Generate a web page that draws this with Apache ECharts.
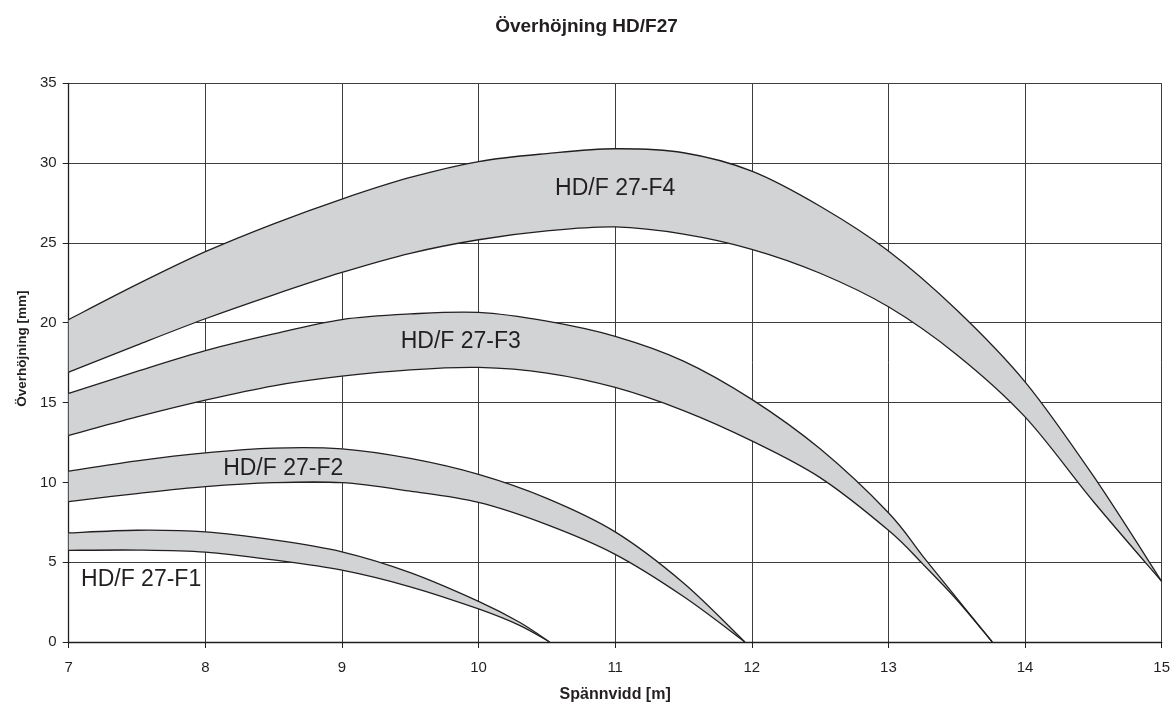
<!DOCTYPE html>
<html>
<head>
<meta charset="utf-8">
<script src="https://cdn.jsdelivr.net/npm/echarts@6/dist/echarts.min.js"></script>
<style>
html,body{margin:0;padding:0;background:#fff;overflow:hidden;}
#chart{width:1173px;height:708px;}
</style>
</head>
<body>
<div id="chart"></div>
<script>
// ---- data ----
const titleText = 'Överhöjning HD/F27';
const xName = 'Spännvidd [m]';
const yName = 'Överhöjning [mm]';

const f4X     = [7, 7.5, 8, 8.5, 9, 9.5, 10, 10.5, 11, 11.5, 12, 12.5, 13, 13.5, 14, 14.5, 15];
const f4Upper = [20.2, 22.4, 24.45, 26.2, 27.75, 29.1, 30.1, 30.6, 30.9, 30.65, 29.5, 27.3, 24.5, 20.8, 16.3, 10.4, 3.8];
const f4Lower = [16.9, 18.6, 20.25, 21.75, 23.15, 24.35, 25.2, 25.75, 26.0, 25.55, 24.6, 23.1, 21.0, 18.0, 14.1, 8.8, 3.8];

const f3X     = [7, 7.5, 8, 8.5, 9, 9.5, 10, 10.5, 11, 11.5, 12, 12.5, 13, 13.25, 13.5, 13.76];
const f3Upper = [15.57, 16.95, 18.25, 19.3, 20.2, 20.55, 20.65, 20.1, 19.15, 17.6, 15.2, 12.1, 8.1, 5.4, 2.75, 0];
const f3Lower = [12.94, 14.1, 15.15, 16.05, 16.65, 17.05, 17.2, 16.85, 15.95, 14.5, 12.6, 10.3, 7.0, 4.9, 2.65, 0];

const f2X     = [7, 7.5, 8, 8.5, 9, 9.5, 10, 10.5, 11, 11.5, 11.95];
const f2Upper = [10.7, 11.35, 11.85, 12.15, 12.1, 11.5, 10.5, 9.0, 6.9, 3.7, 0];
const f2Lower = [8.8, 9.3, 9.73, 9.98, 9.98, 9.45, 8.74, 7.35, 5.49, 2.85, 0];

const f1X     = [7, 7.5, 8, 8.5, 9, 9.5, 10, 10.3, 10.52];
const f1Upper = [6.83, 7.0, 6.9, 6.4, 5.65, 4.35, 2.55, 1.24, 0];
const f1Lower = [5.74, 5.76, 5.63, 5.14, 4.5, 3.46, 2.07, 1.04, 0];

const bandNames = ['HD/F 27-F1', 'HD/F 27-F2', 'HD/F 27-F3', 'HD/F 27-F4'];
// label anchor points (data units)
const labelAt = [[7.53, 3.9], [8.57, 10.83], [9.87, 18.84], [11.0, 28.37]];

const xTicks = {min: 7, max: 15, step: 1};
const yTicks = {min: 0, max: 35, step: 5};

// ---- styles ----
const INK = '#231f20';
const FILL = '#d1d3d4';
const GRIDC = '#3d3d3d';
const FONT = '"Liberation Sans", Arial, Helvetica, sans-serif';

const bands = [
  {x: f1X, up: f1Upper, lo: f1Lower},
  {x: f2X, up: f2Upper, lo: f2Lower},
  {x: f3X, up: f3Upper, lo: f3Lower},
  {x: f4X, up: f4Upper, lo: f4Lower}
];

// smooth path (Catmull-Rom -> cubic Bezier) through pixel points
function curveSegs(pts, startWithMove) {
  let d = startWithMove ? 'M' + pts[0][0] + ' ' + pts[0][1] : 'L' + pts[0][0] + ' ' + pts[0][1];
  const n = pts.length;
  for (let i = 0; i < n - 1; i++) {
    const p0 = pts[Math.max(i - 1, 0)], p1 = pts[i], p2 = pts[i + 1], p3 = pts[Math.min(i + 2, n - 1)];
    const c1x = p1[0] + (p2[0] - p0[0]) / 6, c1y = p1[1] + (p2[1] - p0[1]) / 6;
    const c2x = p2[0] - (p3[0] - p1[0]) / 6, c2y = p2[1] - (p3[1] - p1[1]) / 6;
    d += ' C' + c1x + ' ' + c1y + ' ' + c2x + ' ' + c2y + ' ' + p2[0] + ' ' + p2[1];
  }
  return d;
}

const series = [];
bands.forEach((b, i) => {
  series.push({
    type: 'custom', name: bandNames[i],
    data: b.x.map((x, k) => [x, b.up[k], b.lo[k]]),
    encode: {x: 0, y: [1, 2]},
    silent: true, z: 3,
    renderItem: function (params, api) {
      if (params.dataIndex !== 0) return null;
      const up = b.x.map((x, k) => api.coord([x, b.up[k]]));
      const lo = b.x.map((x, k) => api.coord([x, b.lo[k]]));
      const loRev = lo.slice().reverse();
      const fillPath = curveSegs(up, true) + ' ' + curveSegs(loRev, false) + ' Z';
      return {
        type: 'group',
        children: [
          {type: 'path', shape: {pathData: fillPath}, style: {fill: FILL, stroke: null}},
          {type: 'path', shape: {pathData: curveSegs(up, true)}, style: {fill: null, stroke: INK, lineWidth: 1.3}},
          {type: 'path', shape: {pathData: curveSegs(lo, true)}, style: {fill: null, stroke: INK, lineWidth: 1.3}}
        ]
      };
    }
  });
});

series.push({
  type: 'scatter', name: 'labels',
  data: labelAt.map((p, i) => ({value: p, name: bandNames[i]})),
  symbolSize: 0, z: 10, silent: true,
  itemStyle: {opacity: 1},
  label: {
    show: true, position: 'inside', formatter: p => p.name,
    color: INK, fontSize: 23, fontFamily: FONT, opacity: 1
  }
});

const chart = echarts.init(document.getElementById('chart'), null, {renderer: 'canvas'});
chart.setOption({
  animation: false,
  backgroundColor: '#ffffff',
  title: {
    text: titleText, left: 'center', top: 12,
    textStyle: {fontFamily: FONT, fontSize: 19, fontWeight: 'bold', color: INK}
  },
  grid: {left: 68.7, right: 10.7, top: 83.3, bottom: 61.3, containLabel: false},
  xAxis: {
    type: 'value', min: xTicks.min, max: xTicks.max, interval: xTicks.step,
    name: xName, nameLocation: 'middle', nameGap: 45,
    nameTextStyle: {fontFamily: FONT, fontSize: 16, fontWeight: 'bold', color: INK},
    axisLine: {show: true, lineStyle: {color: INK, width: 1.3}},
    axisTick: {show: true, inside: false, length: 6, lineStyle: {color: INK}},
    axisLabel: {margin: 18, fontFamily: FONT, fontSize: 15, color: INK},
    splitLine: {show: true, lineStyle: {color: GRIDC, width: 1}}
  },
  yAxis: {
    type: 'value', min: yTicks.min, max: yTicks.max, interval: yTicks.step,
    name: yName, nameLocation: 'middle', nameGap: 38,
    nameTextStyle: {fontFamily: FONT, fontSize: 13.5, fontWeight: 'bold', color: INK, padding: [0, 0, 0, 28]},
    axisLine: {show: true, lineStyle: {color: INK, width: 1.3}},
    axisTick: {show: true, inside: false, length: 6, lineStyle: {color: INK}},
    axisLabel: {margin: 12, fontFamily: FONT, fontSize: 15, color: INK},
    splitLine: {show: true, lineStyle: {color: GRIDC, width: 1}}
  },
  series: series
});
</script>
</body>
</html>
